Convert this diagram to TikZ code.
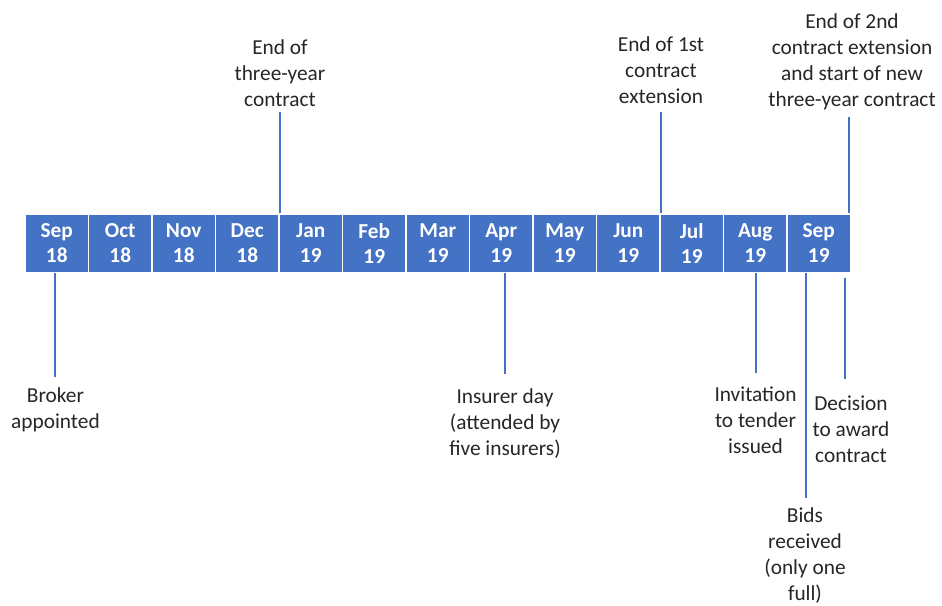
\documentclass[tikz,border=0pt]{standalone}
\usepackage{fontspec}
\setmainfont{Carlito}

\definecolor{barblue}{HTML}{4472C4}
\definecolor{ink}{HTML}{262626}

\begin{document}
\begin{tikzpicture}[x=0.75pt,y=-0.75pt]
    \def\dx{63.5}
    \def\x0{25}
    \def\bary{243.25}

    \tikzstyle{month}=[fill=barblue,draw=white,line width=1.1pt,minimum width=47.6pt,minimum height=43.9pt,inner sep=0pt,text=white,align=center,font=\fontsize{16}{18.75}\selectfont\bfseries]
    \tikzstyle{event}=[text=ink,inner sep=0pt,align=center,font=\fontsize{16}{19.5}\selectfont]
    \tikzstyle{tick}=[draw=barblue,line width=1.5pt]

    \useasboundingbox (0,0) rectangle (942,606);

    \node[month] (sep18) at (\x0+0.5*\dx,\bary) {Sep\\18};
    \node[month] (oct18) at (\x0+1.5*\dx,\bary) {Oct\\18};
    \node[month] (nov18) at (\x0+2.5*\dx,\bary) {Nov\\18};
    \node[month] (dec18) at (\x0+3.5*\dx,\bary) {Dec\\18};
    \node[month] (jan19) at (\x0+4.5*\dx,\bary) {Jan\\19};
    \node[month] (feb19) at (\x0+5.5*\dx,\bary) {Feb\\19};
    \node[month] (mar19) at (\x0+6.5*\dx,\bary) {Mar\\19};
    \node[month] (apr19) at (\x0+7.5*\dx,\bary) {Apr\\19};
    \node[month] (may19) at (\x0+8.5*\dx,\bary) {May\\19};
    \node[month] (jun19) at (\x0+9.5*\dx,\bary) {Jun\\19};
    \node[month] (jul19) at (\x0+10.5*\dx,\bary) {Jul\\19};
    \node[month] (aug19) at (\x0+11.5*\dx,\bary) {Aug\\19};
    \node[month] (sep19) at (\x0+12.5*\dx,\bary) {Sep\\19};

    % events above the bar
    \node[event,anchor=south] (endthree) at (280,107.3) {End of\\three-year\\contract};
    \node[event,anchor=south] (endone) at (661,103.5) {End of 1st\\contract\\extension};
    \node[event,anchor=south] (endtwo) at (852,110.5) {End of 2nd\\contract extension\\and start of new\\three-year contract};

    % events below the bar
    \node[event,anchor=north] (broker) at (55.5,387) {Broker\\appointed};
    \node[event,anchor=north] (insurer) at (505,388) {Insurer day\\(attended by\\five insurers)};
    \node[event,anchor=north] (invite) at (755.5,386) {Invitation\\to tender\\issued};
    \node[event,anchor=north] (decide) at (851,396) {Decision\\to award\\contract};
    \node[event,anchor=north] (bids) at (805,507) {Bids\\received\\(only one\\full)};

    \coordinate (endthree tip) at (279.5,112);
    \coordinate (endone tip) at (660.5,112);
    \coordinate (endtwo tip) at (849.3,117);
    \coordinate (broker tip) at (54.5,377);
    \coordinate (insurer tip) at (505,374);
    \coordinate (invite tip) at (755.7,373);
    \coordinate (decide tip) at (845,379);
    \coordinate (bids tip) at (805.7,498);

          \draw [tick] (endthree tip |- dec18.north) -- (endthree tip);
          \draw [tick] (endone tip |- jun19.north) -- (endone tip);
          \draw [tick] (endtwo tip |- sep19.north) -- (endtwo tip);
          \draw [tick] (broker tip |- sep18.south) -- (broker tip);
          \draw [tick] (insurer tip |- apr19.south) -- (insurer tip);
          \draw [tick] (invite tip |- aug19.south) -- (invite tip);
          \draw [tick] (bids tip |- sep19.south) -- (bids tip);
          \draw [tick, shorten <=3.5pt] (decide tip |- sep19.south) -- (decide tip);

\end{tikzpicture}
\end{document}
